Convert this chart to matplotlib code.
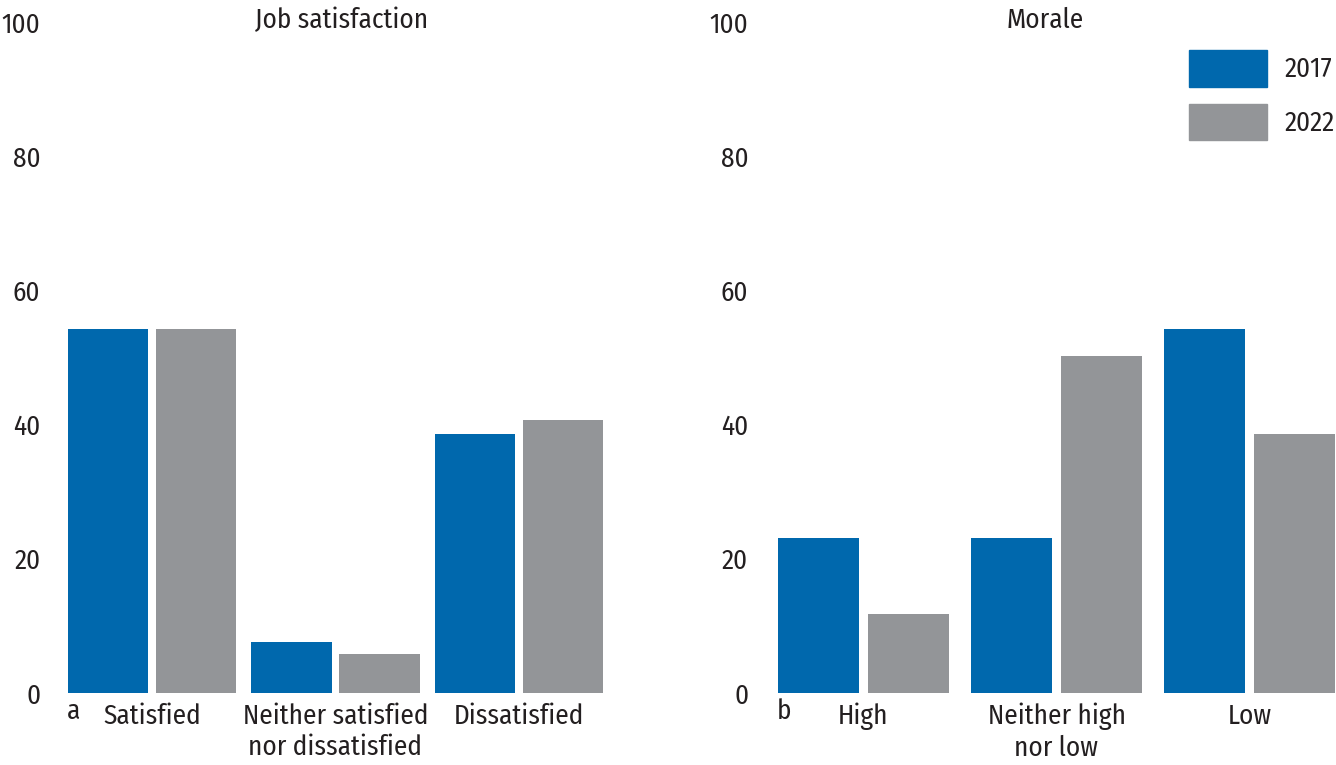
import matplotlib
matplotlib.use('Agg')
import matplotlib.pyplot as plt
import numpy as np
from matplotlib.patches import Patch

plt.rcParams['font.family'] = ['Fira Sans Condensed', 'Liberation Sans', 'DejaVu Sans']

# data
job_cats = ['Satisfied', 'Neither satisfied\nnor dissatisfied', 'Dissatisfied']
job_2017 = [54.2, 7.6, 38.6]
job_2022 = [54.2, 5.8, 40.7]

morale_cats = ['High', 'Neither high\nnor low', 'Low']
morale_2017 = [23.1, 23.1, 54.2]
morale_2022 = [11.8, 50.2, 38.6]

years = ['2017', '2022']
blue = '#0068AD'
grey = '#939598'
txt = '#231F20'
fs = 19.5

fig = plt.figure(figsize=(13.36, 7.65), dpi=100)
ax1 = fig.add_axes([68/1336, 72/765, 535/1336, 671/765])
ax2 = fig.add_axes([778/1336, 72/765, 557/1336, 671/765])

def draw(ax, cats, v1, v2, w, off, title, letter, title_x, ypad):
    x = np.arange(len(cats))
    ax.bar(x - off, v1, w, color=blue)
    ax.bar(x + off, v2, w, color=grey)
    ax.set_ylim(0, 100)
    ax.set_xlim(-off - w/2, len(cats) - 1 + off + w/2)
    ax.set_yticks([0, 20, 40, 60, 80, 100])
    ax.tick_params(axis='y', length=0, pad=ypad, labelsize=fs, labelcolor=txt)
    ax.set_xticks(x)
    ax.set_xticklabels(cats, fontsize=fs, color=txt, linespacing=1.2)
    ax.tick_params(axis='x', length=0, pad=7)
    for s in ax.spines.values():
        s.set_visible(False)
    ax.text(title_x, 1.002, title, transform=ax.transAxes, ha='center', va='center',
            fontsize=fs, color=txt)
    ax.text(-0.002, -0.008, letter, transform=ax.transAxes, ha='left', va='top',
            fontsize=fs, color=txt)

draw(ax1, job_cats, job_2017, job_2022, 0.437, 0.24, 'Job satisfaction', 'a', 0.512, 20)
draw(ax2, morale_cats, morale_2017, morale_2022, 0.417, 0.234, 'Morale', 'b', 0.48, 21.5)

handles = [Patch(color=blue), Patch(color=grey)]
ax2.legend(handles, years, loc='upper right', bbox_to_anchor=(1.0, 0.958), frameon=False,
           fontsize=fs, handlelength=2.9, handleheight=1.7, handletextpad=0.65,
           labelspacing=0.62, borderaxespad=0, borderpad=0, labelcolor=txt)

fig.savefig('out.png', dpi=100)
